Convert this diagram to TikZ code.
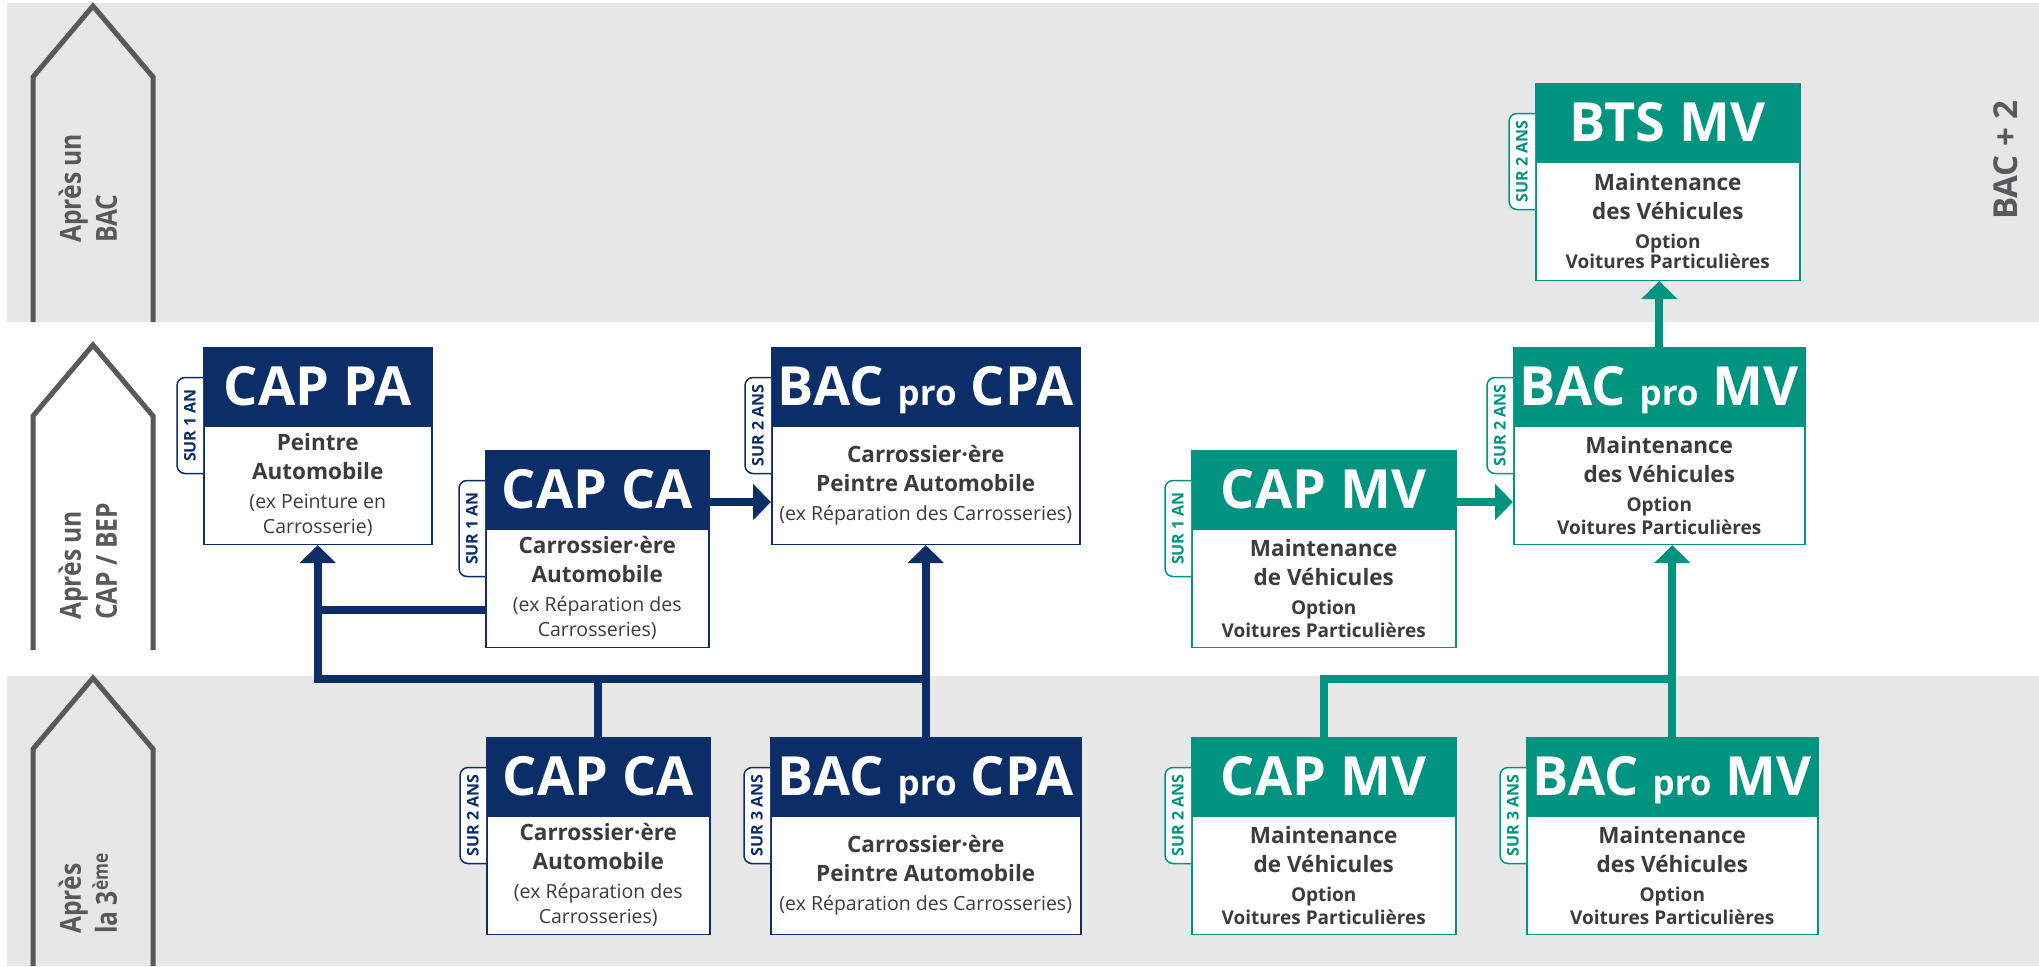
\documentclass[tikz,border=0pt]{standalone}
\usepackage{fontspec}
\setmainfont{Open Sans}
\newfontfamily\etroit[FakeStretch=0.85]{Open Sans}
\usetikzlibrary{arrows.meta}

\definecolor{bleu}{RGB}{11,45,104}
\definecolor{vert}{RGB}{0,148,128}
\definecolor{fond}{RGB}{231,231,231}
\definecolor{gris}{RGB}{89,89,91}
\definecolor{encre}{RGB}{60,60,60}

\tikzset{
  titre/.style={draw, line width=1.5pt, text=white, inner sep=0pt, minimum height=77pt,
    text height=38pt, text depth=0pt, font=\fontsize{54}{54}\selectfont\bfseries},
  corps/.style={draw, fill=white, line width=1.5pt, minimum height=118pt, inner sep=2pt,
    align=center, text=encre, font=\fontsize{22.5}{29}\selectfont\bfseries},
  onglet/.style={line width=1.5pt, fill=white, rounded corners=8pt},
  duree/.style={rotate=90, inner sep=0pt, font=\fontsize{16}{16}\selectfont\bfseries},
  etape/.style={rotate=90, anchor=west, align=left, inner sep=0pt, text=gris,
    font=\etroit\fontsize{29}{36}\selectfont\bfseries},
  chevron/.style={draw=gris, line width=5pt},
  lien/.style={line width=8pt, draw=#1},
  fleche/.style={lien=#1, -{Triangle[width=35pt,length=18pt]}},
}

\newcommand{\pro}{{\fontsize{35}{35}\selectfont pro}}
\newcommand{\exn}[1]{{\mdseries\fontsize{19.5}{24}\selectfont #1}}
\newcommand{\optn}[1]{{\fontsize{19}{24}\selectfont #1}}
% name, x, y, width, colour, title, text, duration
\newcommand{\formation}[8]{%
  \node[titre, draw=#5, fill=#5, minimum width=#4pt, anchor=north west] (#1) at (#2,#3) {#6};
  \node[corps, draw=#5, minimum width=#4pt, anchor=north] (#1-c) at (#1.south) {#7};
  \draw[onglet, draw=#5] ([yshift=48pt]#1.south west) -- ++(-26,0) -- ++(0,96)
    -- ([yshift=-48pt]#1.south west);
  \node[duree, text=#5] (#1-d) at ([xshift=-13pt]#1.south west) {#8};
}

\begin{document}
\begin{tikzpicture}[x=1pt, y=-1pt]
  \useasboundingbox (0,0) rectangle (2039,966);

  % bands
  \fill[fond] (7,3) rectangle (2039,322);
  \fill[fond] (7,676) rectangle (2039,966);
  \foreach \h/\b in {6/322, 345/650, 678/966}
    \draw[chevron] (33,\b) -- (33,\h+71) -- (93,\h) -- (153,\h+71) -- (153,\b);
  \node[etape] (apres-bac) at (88,243) {Après un\\BAC};
  \node[etape] (apres-cap) at (88,620) {Après un\\CAP / BEP};
  \node[etape] (apres-3e) at (88,934) {Après\\la 3\textsuperscript{ème}};
  \node[etape, anchor=center, font=\fontsize{33}{33}\selectfont\bfseries] (bac2) at (2006,160) {BAC + 2};

  % carrosserie
  \formation{cappa}{203}{347}{228}{bleu}{CAP PA}
    {Peintre\\Automobile\\\exn{(ex Peinture en}\\[-4pt]\exn{Carrosserie)}}{SUR 1 AN}
  \formation{capca}{485}{450}{223}{bleu}{CAP CA}
    {Carrossier·ère\\Automobile\\\exn{(ex Réparation des}\\[-4pt]\exn{Carrosseries)}}{SUR 1 AN}
  \formation{bacpcpa}{771}{347}{308}{bleu}{BAC \pro{} CPA}
    {Carrossier·ère\\Peintre Automobile\\\exn{(ex Réparation des Carrosseries)}}{SUR 2 ANS}
  \formation{capca3}{486}{737}{223}{bleu}{CAP CA}
    {Carrossier·ère\\Automobile\\\exn{(ex Réparation des}\\[-4pt]\exn{Carrosseries)}}{SUR 2 ANS}
  \formation{bacpcpa3}{770}{737}{310}{bleu}{BAC \pro{} CPA}
    {Carrossier·ère\\Peintre Automobile\\\exn{(ex Réparation des Carrosseries)}}{SUR 3 ANS}

  % maintenance
  \formation{btsmv}{1535}{83}{264}{vert}{BTS MV}
    {Maintenance\\des Véhicules\\\optn{Option}\\[-9pt]\optn{Voitures Particulières}}{SUR 2 ANS}
  \formation{bacpmv}{1513}{347}{291}{vert}{BAC \pro{} MV}
    {Maintenance\\des Véhicules\\\optn{Option}\\[-6pt]\optn{Voitures Particulières}}{SUR 2 ANS}
  \formation{capmv}{1191}{450}{264}{vert}{CAP MV}
    {Maintenance\\de Véhicules\\\optn{Option}\\[-6pt]\optn{Voitures Particulières}}{SUR 1 AN}
  \formation{capmv3}{1191}{737}{264}{vert}{CAP MV}
    {Maintenance\\de Véhicules\\\optn{Option}\\[-6pt]\optn{Voitures Particulières}}{SUR 2 ANS}
  \formation{bacpmv3}{1526}{737}{291}{vert}{BAC \pro{} MV}
    {Maintenance\\des Véhicules\\\optn{Option}\\[-6pt]\optn{Voitures Particulières}}{SUR 3 ANS}

  % links
  \coordinate (bus) at (0,679);
  \coordinate (branche) at (0,610);
  \coordinate (fl) at (0,502);
  \draw[fleche=bleu] (bacpcpa3.north |- bus) -| (cappa-c.south);
  \draw[fleche=bleu] (bacpcpa3.north) -- (bacpcpa-c.south);
  \draw[lien=bleu] (capca3.north) -- (capca3.north |- bus);
  \draw[lien=bleu] (capca-c.west |- branche) -- (cappa-c.south |- branche);
  \draw[fleche=bleu] (capca.east |- fl) -- (bacpcpa-c.west |- fl);

  \draw[fleche=vert] (bacpmv3.north) -- (bacpmv3.north |- bacpmv-c.south);
  \draw[lien=vert] (capmv3.north) |- (bacpmv3.north |- bus);
  \draw[fleche=vert] (capmv.east |- fl) -- (bacpmv-c.west |- fl);
  \draw[fleche=vert] (bacpmv.north) -- (bacpmv.north |- btsmv-c.south);
\end{tikzpicture}
\end{document}
